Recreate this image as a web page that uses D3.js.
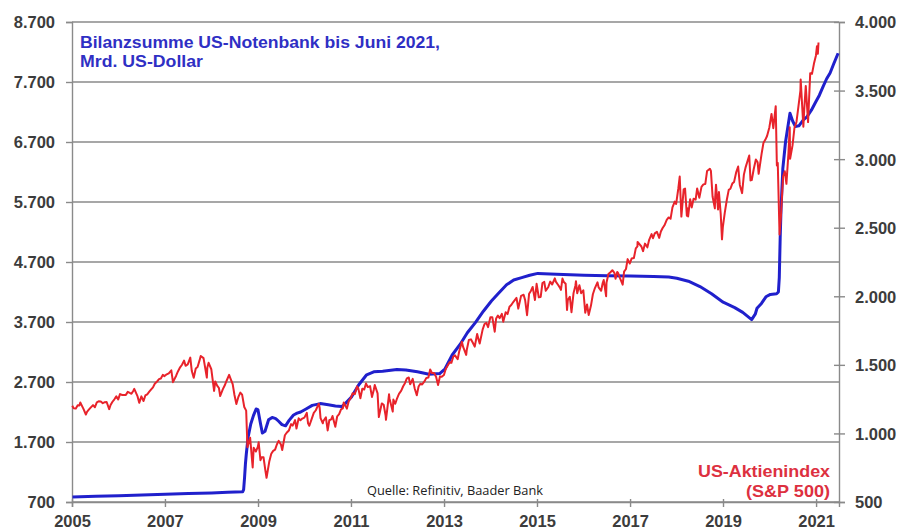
<!DOCTYPE html>
<html>
<head>
<meta charset="utf-8">
<script src="https://cdn.jsdelivr.net/npm/d3@7"></script>
<style>
  html, body { margin: 0; padding: 0; background: #ffffff; }
  svg { display: block; }
  .tick-label { font-family: "Liberation Sans", Arial, sans-serif; font-weight: bold; font-size: 16.5px; fill: #3c3c3c; }
</style>
</head>
<body>
<svg id="chart" width="908" height="531"></svg>
<script>
// Axis ticks
const leftTicks = [700, 1700, 2700, 3700, 4700, 5700, 6700, 7700, 8700];
const rightTicks = [500, 1000, 1500, 2000, 2500, 3000, 3500, 4000];
const yearTicks = [2005, 2007, 2009, 2011, 2013, 2015, 2017, 2019, 2021];

// Texts
const titleLines = ["Bilanzsumme US-Notenbank bis Juni 2021,", "Mrd. US-Dollar"];
const legendLines = ["US-Aktienindex", "(S&P 500)"];
const sourceText = "Quelle: Refinitiv, Baader Bank";

// Fed balance sheet, total assets (bn USD)
const fedDates = [
  "2005-01-05","2005-07-06","2006-01-04","2006-07-05","2007-01-03","2007-07-04","2008-01-02","2008-05-07","2008-09-03",
  "2008-09-10","2008-09-17","2008-09-24","2008-10-01","2008-10-15","2008-11-05","2008-11-26","2008-12-17","2008-12-31",
  "2009-01-21","2009-02-04","2009-02-25","2009-03-25","2009-04-22","2009-05-20","2009-06-10","2009-07-08","2009-08-05",
  "2009-09-02","2009-10-07","2009-11-04","2009-12-02","2010-01-13","2010-03-03","2010-05-05","2010-07-07","2010-09-01",
  "2010-10-20","2010-11-17","2011-01-05","2011-03-02","2011-05-04","2011-06-29","2011-09-07","2011-12-28","2012-03-07",
  "2012-06-06","2012-09-05","2012-11-28","2013-01-09","2013-03-06","2013-05-08","2013-07-03","2013-09-04","2013-11-06",
  "2014-01-08","2014-03-05","2014-05-07","2014-07-02","2014-09-03","2014-11-05","2015-01-07","2015-06-03","2016-01-06",
  "2016-07-06","2017-01-04","2017-07-05","2017-11-01","2018-01-03","2018-04-04","2018-07-04","2018-10-03","2019-01-02",
  "2019-04-03","2019-06-05","2019-08-14","2019-09-11","2019-09-25","2019-10-30","2019-12-04","2020-01-08","2020-02-26",
  "2020-03-11","2020-03-18","2020-03-25","2020-04-01","2020-04-15","2020-05-06","2020-06-10","2020-07-01","2020-07-22",
  "2020-08-19","2020-09-23","2020-10-21","2020-11-25","2020-12-30","2021-01-27","2021-02-24","2021-03-24","2021-04-21",
  "2021-05-19","2021-06-23"
];
const fedValues = [
  785, 795, 805, 815, 828, 840, 852, 862, 872,
  905, 1100, 1330, 1500, 1780, 2000, 2140, 2250, 2240,
  2000, 1850, 1880, 2070, 2110, 2090, 2050, 1990, 1970,
  2060, 2150, 2180, 2200, 2250, 2310, 2340, 2320, 2300,
  2290, 2340, 2450, 2650, 2820, 2870, 2880, 2910, 2900,
  2870, 2830, 2840, 2920, 3150, 3330, 3520, 3690, 3880,
  4050, 4180, 4320, 4400, 4440, 4480, 4510, 4495, 4480,
  4470, 4465, 4460, 4450, 4430, 4380, 4290, 4170, 4030,
  3940, 3860, 3740, 3830, 3930, 4010, 4120, 4160, 4170,
  4200, 4440, 5100, 5600, 6260, 6700, 7180, 7050, 6960,
  6970, 7070, 7120, 7230, 7370, 7480, 7620, 7750, 7850,
  8000, 8180
];

// S&P 500 index level
const spxDates = [
  "2005-01-03","2005-01-14","2005-01-31","2005-02-15","2005-02-28","2005-03-07","2005-03-31","2005-04-20","2005-04-29","2005-05-13",
  "2005-05-31","2005-06-15","2005-06-30","2005-07-15","2005-07-29","2005-08-15","2005-08-31","2005-09-15","2005-09-30","2005-10-20",
  "2005-10-31","2005-11-15","2005-11-30","2005-12-15","2005-12-30",
  "2006-01-13","2006-01-31","2006-02-15","2006-02-28","2006-03-15","2006-03-31","2006-04-13","2006-04-28","2006-05-05","2006-05-31",
  "2006-06-13","2006-06-30","2006-07-17","2006-07-31","2006-08-15","2006-08-31","2006-09-15","2006-09-29","2006-10-13","2006-10-31",
  "2006-11-15","2006-11-30","2006-12-15","2006-12-29",
  "2007-01-15","2007-01-31","2007-02-20","2007-03-05","2007-03-30","2007-04-13","2007-04-30","2007-05-15","2007-05-31","2007-06-12",
  "2007-06-29","2007-07-19","2007-07-31","2007-08-15","2007-08-31","2007-09-14","2007-09-28","2007-10-09","2007-10-31","2007-11-26",
  "2007-11-30","2007-12-10","2007-12-31",
  "2008-01-22","2008-01-31","2008-02-15","2008-02-29","2008-03-10","2008-03-31","2008-04-15","2008-04-30","2008-05-19","2008-05-30",
  "2008-06-16","2008-06-30","2008-07-15","2008-07-31","2008-08-15","2008-08-29","2008-09-15","2008-09-30","2008-10-10","2008-10-31",
  "2008-11-20","2008-11-28","2008-12-15","2008-12-31",
  "2009-01-06","2009-01-20","2009-01-30","2009-02-13","2009-02-27","2009-03-09","2009-03-31","2009-04-15","2009-04-30","2009-05-15",
  "2009-05-29","2009-06-12","2009-06-30","2009-07-10","2009-07-31","2009-08-14","2009-08-31","2009-09-18","2009-09-30","2009-10-19",
  "2009-10-30","2009-11-16","2009-11-30","2009-12-15","2009-12-31",
  "2010-01-19","2010-01-29","2010-02-08","2010-02-26","2010-03-15","2010-03-31","2010-04-23","2010-04-30","2010-05-07","2010-05-25",
  "2010-05-28","2010-06-18","2010-07-02","2010-07-15","2010-07-30","2010-08-09","2010-08-31","2010-09-15","2010-09-30","2010-10-15",
  "2010-10-29","2010-11-05","2010-11-30","2010-12-15","2010-12-31",
  "2011-01-14","2011-01-31","2011-02-18","2011-02-28","2011-03-16","2011-03-31","2011-04-15","2011-04-29","2011-05-13","2011-05-31",
  "2011-06-15","2011-06-30","2011-07-07","2011-07-29","2011-08-08","2011-08-31","2011-09-15","2011-09-30","2011-10-03","2011-10-27",
  "2011-10-31","2011-11-25","2011-11-30","2011-12-15","2011-12-30",
  "2012-01-13","2012-01-31","2012-02-15","2012-02-29","2012-03-15","2012-03-30","2012-04-10","2012-04-30","2012-05-15","2012-06-01",
  "2012-06-15","2012-06-29","2012-07-13","2012-07-31","2012-08-15","2012-08-31","2012-09-14","2012-09-28","2012-10-15","2012-10-31",
  "2012-11-15","2012-11-30","2012-12-14","2012-12-31",
  "2013-01-15","2013-01-31","2013-02-15","2013-02-28","2013-03-15","2013-03-28","2013-04-18","2013-04-30","2013-05-21","2013-05-31",
  "2013-06-24","2013-06-28","2013-07-15","2013-07-31","2013-08-15","2013-08-30","2013-09-18","2013-09-30","2013-10-08","2013-10-31",
  "2013-11-15","2013-11-29","2013-12-13","2013-12-31",
  "2014-01-15","2014-02-03","2014-02-14","2014-02-28","2014-03-14","2014-03-31","2014-04-11","2014-04-30","2014-05-15","2014-05-30",
  "2014-06-13","2014-06-30","2014-07-24","2014-08-07","2014-08-29","2014-09-18","2014-09-30","2014-10-15","2014-10-31","2014-11-14",
  "2014-11-28","2014-12-16","2014-12-29",
  "2015-01-15","2015-01-30","2015-02-13","2015-02-27","2015-03-11","2015-03-31","2015-04-15","2015-04-30","2015-05-21","2015-05-29",
  "2015-06-15","2015-06-30","2015-07-08","2015-07-20","2015-07-31","2015-08-14","2015-08-25","2015-08-31","2015-09-16","2015-09-29",
  "2015-10-15","2015-10-30","2015-11-03","2015-11-13","2015-11-30","2015-12-14","2015-12-31",
  "2016-01-15","2016-01-29","2016-02-11","2016-02-29","2016-03-15","2016-03-31","2016-04-20","2016-04-29","2016-05-19","2016-05-31",
  "2016-06-08","2016-06-27","2016-06-30","2016-07-15","2016-07-29","2016-08-15","2016-08-31","2016-09-09","2016-09-22","2016-09-30",
  "2016-10-14","2016-11-04","2016-11-15","2016-11-30","2016-12-13","2016-12-30",
  "2017-01-13","2017-01-31","2017-02-15","2017-02-28","2017-03-01","2017-03-31","2017-04-13","2017-04-28","2017-05-17","2017-05-31",
  "2017-06-19","2017-06-30","2017-07-14","2017-07-31","2017-08-18","2017-08-31","2017-09-15","2017-09-29","2017-10-16","2017-10-31",
  "2017-11-15","2017-11-30","2017-12-18","2017-12-29",
  "2018-01-15","2018-01-26","2018-02-08","2018-02-26","2018-03-09","2018-03-23","2018-03-29","2018-04-02","2018-04-18","2018-04-30",
  "2018-05-15","2018-05-31","2018-06-12","2018-06-29","2018-07-16","2018-07-31","2018-08-15","2018-08-29","2018-09-20","2018-09-28",
  "2018-10-11","2018-10-29","2018-10-31","2018-11-07","2018-11-23","2018-11-30","2018-12-14","2018-12-24","2018-12-31",
  "2019-01-15","2019-01-31","2019-02-15","2019-02-28","2019-03-15","2019-03-29","2019-04-15","2019-04-30","2019-05-13","2019-05-31",
  "2019-06-14","2019-06-28","2019-07-26","2019-08-05","2019-08-15","2019-08-30","2019-09-16","2019-09-30","2019-10-08","2019-10-31",
  "2019-11-15","2019-11-29","2019-12-13","2019-12-31",
  "2020-01-17","2020-01-31","2020-02-19","2020-02-28","2020-03-06","2020-03-13","2020-03-20","2020-03-31","2020-04-17","2020-04-30",
  "2020-05-13","2020-05-29","2020-06-08","2020-06-11","2020-06-30","2020-07-15","2020-07-31","2020-08-14","2020-08-31","2020-09-02",
  "2020-09-23","2020-09-30","2020-10-12","2020-10-30","2020-11-16","2020-11-30","2020-12-15","2020-12-31",
  "2021-01-08","2021-01-15","2021-01-20"
];
const spxValues = [
  1202,1184,1181,1206,1204,1225,1181,1138,1157,1173,
  1192,1206,1191,1227,1234,1233,1220,1228,1229,1177,
  1207,1231,1249,1270,1248,
  1287,1280,1280,1281,1303,1295,1289,1311,1325,1270,
  1223,1270,1236,1277,1285,1304,1321,1336,1362,1378,
  1396,1401,1427,1418,
  1431,1438,1460,1374,1421,1452,1482,1501,1531,1493,
  1503,1553,1455,1406,1474,1484,1527,1565,1549,1407,
  1481,1515,1468,
  1310,1379,1349,1331,1273,1323,1351,1386,1427,1400,
  1360,1280,1214,1267,1298,1283,1193,1166,899,969,
  752,896,868,903,
  935,805,826,827,735,677,798,852,873,882,
  919,946,919,879,987,1005,1021,1068,1057,1097,
  1036,1110,1096,1108,1115,
  1150,1074,1056,1104,1150,1169,1217,1187,1111,1074,
  1089,1117,1022,1096,1102,1127,1049,1125,1141,1176,
  1183,1225,1181,1236,1258,
  1293,1286,1343,1327,1257,1326,1320,1364,1338,1345,
  1266,1321,1353,1292,1119,1219,1209,1131,1099,1285,
  1253,1159,1247,1216,1258,
  1289,1312,1344,1366,1402,1408,1358,1398,1330,1278,
  1342,1362,1357,1379,1405,1407,1466,1441,1440,1412,
  1353,1416,1413,1426,
  1472,1498,1520,1515,1561,1569,1541,1598,1669,1631,
  1573,1606,1682,1686,1661,1633,1725,1682,1656,1757,
  1798,1806,1775,1848,
  1848,1742,1838,1859,1841,1872,1815,1884,1870,1924,
  1936,1960,1988,1910,2003,2011,1972,1862,2018,2039,
  2068,1973,2091,
  1993,1995,2097,2105,2040,2068,2107,2086,2131,2107,
  2084,2063,2047,2129,2104,2092,1900,1972,1996,1884,
  2023,2079,2110,2023,2080,2022,2044,
  1880,1940,1864,1932,2015,2060,2102,2065,2040,2097,
  2119,2001,2099,2162,2174,2190,2171,2128,2177,2168,
  2133,2085,2180,2199,2271,2239,
  2275,2279,2349,2364,2396,2363,2329,2384,2357,2412,
  2453,2423,2459,2470,2426,2472,2500,2519,2557,2575,
  2565,2648,2690,2674,
  2786,2873,2581,2780,2786,2588,2641,2582,2708,2648,
  2711,2705,2786,2718,2798,2816,2819,2914,2930,2914,
  2728,2641,2712,2814,2633,2760,2600,2415,2507,
  2610,2704,2776,2784,2822,2834,2906,2946,2812,2752,
  2887,2942,3026,2845,2848,2926,2998,2977,2893,3038,
  3120,3141,3169,3231,
  3330,3226,3386,2954,2972,2711,2450,2585,2875,2912,
  2820,3044,3232,3002,3100,3227,3271,3373,3500,3580,
  3237,3363,3534,3270,3627,3622,3695,3756,
  3824,3768,3851
];

const W = 908, H = 531;
const plot = { left: 72, right: 839, top: 22, bottom: 502 };
const parse = d3.timeParse("%Y-%m-%d");
const de = d3.formatLocale({ decimal: ",", thousands: ".", grouping: [3], currency: ["", " €"] });
const fmt = de.format(",");

const x = d3.scaleTime()
  .domain([new Date(2005, 0, 1), new Date(2021, 5, 30)])
  .range([plot.left, plot.right]);
const yLeft = d3.scaleLinear().domain([700, 8700]).range([plot.bottom, plot.top]);
const yRight = d3.scaleLinear().domain([500, 4000]).range([plot.bottom, plot.top]);

const fed = fedDates.map((d, i) => ({ date: parse(d), value: fedValues[i] }));
const spx = spxDates.map((d, i) => ({ date: parse(d), value: spxValues[i] }));

const svg = d3.select("#chart");
const gridColor = "#8a8a8a";

// Horizontal grid lines at the left-axis ticks
svg.append("g")
  .selectAll("line")
  .data(leftTicks)
  .join("line")
  .attr("x1", plot.left)
  .attr("x2", plot.right)
  .attr("y1", d => yLeft(d))
  .attr("y2", d => yLeft(d))
  .attr("stroke", gridColor)
  .attr("stroke-width", 1.4);

// Left axis
const gLeft = svg.append("g")
  .attr("transform", `translate(${plot.left},0)`)
  .call(d3.axisLeft(yLeft).tickValues(leftTicks).tickFormat(fmt).tickSize(6).tickPadding(11));
gLeft.select(".domain").attr("stroke", gridColor).attr("stroke-width", 1.4);
gLeft.selectAll(".tick line").attr("stroke", gridColor).attr("stroke-width", 1.4);
gLeft.selectAll(".tick text").attr("class", "tick-label").attr("dy", "0.36em");

// Right axis
const gRight = svg.append("g")
  .attr("transform", `translate(${plot.right},0)`)
  .call(d3.axisRight(yRight).tickValues(rightTicks).tickFormat(fmt).tickSize(6).tickPadding(10));
gRight.select(".domain").attr("stroke", gridColor).attr("stroke-width", 1.4);
gRight.selectAll(".tick line").attr("stroke", gridColor).attr("stroke-width", 1.4).attr("x1", -5);
gRight.selectAll(".tick text").attr("class", "tick-label").attr("dy", "0.36em");

// Bottom axis
const gBottom = svg.append("g")
  .attr("transform", `translate(0,${plot.bottom})`)
  .call(d3.axisBottom(x)
    .tickValues(yearTicks.map(y => new Date(y, 0, 1)))
    .tickFormat(d3.timeFormat("%Y"))
    .tickSize(5).tickPadding(8));
gBottom.select(".domain").attr("stroke", gridColor).attr("stroke-width", 1.4);
gBottom.selectAll(".tick line").attr("stroke", gridColor).attr("stroke-width", 1.4).attr("y1", -3);
gBottom.selectAll(".tick text").attr("class", "tick-label").attr("dy", "0.71em");

// Fed balance sheet line
svg.append("path")
  .datum(fed)
  .attr("fill", "none")
  .attr("stroke", "#2020cc")
  .attr("stroke-width", 3)
  .attr("stroke-linejoin", "round")
  .attr("d", d3.line().x(d => x(d.date)).y(d => yLeft(d.value)));

// S&P 500 line
svg.append("path")
  .datum(spx)
  .attr("fill", "none")
  .attr("stroke", "#e8232b")
  .attr("stroke-width", 2)
  .attr("stroke-linejoin", "round")
  .attr("d", d3.line().x(d => x(d.date)).y(d => yRight(d.value)));

// Title (blue series)
const titleWidths = [360, 123];
svg.append("g")
  .selectAll("text")
  .data(titleLines)
  .join("text")
  .attr("x", 80)
  .attr("y", (d, i) => 48 + i * 19)
  .attr("textLength", (d, i) => titleWidths[i])
  .attr("lengthAdjust", "spacingAndGlyphs")
  .attr("font-family", "'Liberation Sans', Arial, sans-serif")
  .attr("font-weight", "bold")
  .attr("font-size", 16)
  .attr("fill", "#2f2fc4")
  .text(d => d);

// Legend label (red series)
const legendWidths = [132, 84];
svg.append("g")
  .selectAll("text")
  .data(legendLines)
  .join("text")
  .attr("x", (d, i) => 830 - legendWidths[i])
  .attr("y", (d, i) => 477 + i * 20)
  .attr("textLength", (d, i) => legendWidths[i])
  .attr("lengthAdjust", "spacingAndGlyphs")
  .attr("font-family", "'Liberation Sans', Arial, sans-serif")
  .attr("font-weight", "bold")
  .attr("font-size", 16.5)
  .attr("fill", "#dd3040")
  .text(d => d);

// Source note
svg.append("text")
  .attr("x", 367)
  .attr("y", 495)
  .attr("textLength", 176)
  .attr("lengthAdjust", "spacingAndGlyphs")
  .attr("font-family", "'Open Sans', sans-serif")
  .attr("font-size", 12.5)
  .attr("fill", "#222")
  .text(sourceText);
</script>
</body>
</html>
